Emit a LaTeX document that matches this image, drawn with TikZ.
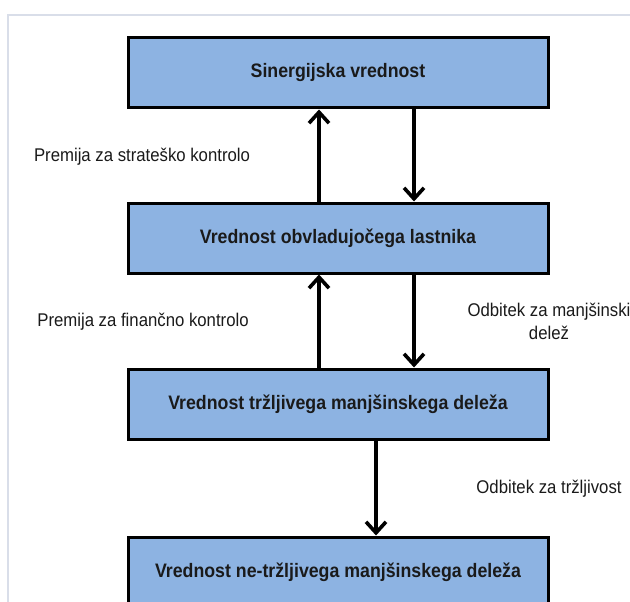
\documentclass[tikz,border=0pt]{standalone}
\usepackage{fontspec}
\setmainfont[FakeStretch=0.91]{Liberation Sans}
\usetikzlibrary{arrows.meta}
\definecolor{boxfill}{HTML}{8DB3E2}
\definecolor{framecol}{HTML}{D9DEE9}
\definecolor{txt}{HTML}{1A1A1A}
\tikzset{
  valuebox/.style={draw=black, line width=3pt, fill=boxfill, minimum width=420pt, minimum height=70pt, inner sep=0pt, font=\fontsize{19.5}{22}\selectfont\bfseries, text=txt},
  lbl/.style={font=\fontsize{18.4}{23}\selectfont, text=txt, inner sep=0pt, align=center},
  arr/.style={line width=3.6pt, -{Straight Barb[length=11pt,width=20pt,line width=3.6pt]}}
}
\begin{document}
\begin{tikzpicture}[x=1pt,y=-1pt]
\useasboundingbox (0,0) rectangle (630,602);
\clip (0,0) rectangle (630,602);
\draw[framecol, line width=1.5pt] (8,602) -- (8,15) -- (630,15);
\node[valuebox] (b1) at (338,73) {Sinergijska vrednost};
\node[valuebox] (b2) at (338,238) {Vrednost obvladujočega lastnika};
\node[valuebox] (b3) at (338,404) {Vrednost tržljivega manjšinskega deleža};
\node[valuebox] (b4) at (338,572) {Vrednost ne-tržljivega manjšinskega deleža};
\coordinate (xu) at (319,0);
\coordinate (xd) at (414,0);
\coordinate (xm) at (376,0);
\draw[arr] (b2.north -| xu) -- (b1.south -| xu);
\draw[arr] (b1.south -| xd) -- (b2.north -| xd);
\draw[arr] (b3.north -| xu) -- (b2.south -| xu);
\draw[arr] (b2.south -| xd) -- (b3.north -| xd);
\draw[arr] (b3.south -| xm) -- (b4.north -| xm);
\node[lbl] (l1) at (142,157) {Premija za strateško kontrolo};
\node[lbl] (l2) at (143,322) {Premija za finančno kontrolo};
\node[lbl] (l3) at (549,321) {Odbitek za manjšinski\\delež};
\node[lbl] (l4) at (549,489) {Odbitek za tržljivost};
\end{tikzpicture}
\end{document}
